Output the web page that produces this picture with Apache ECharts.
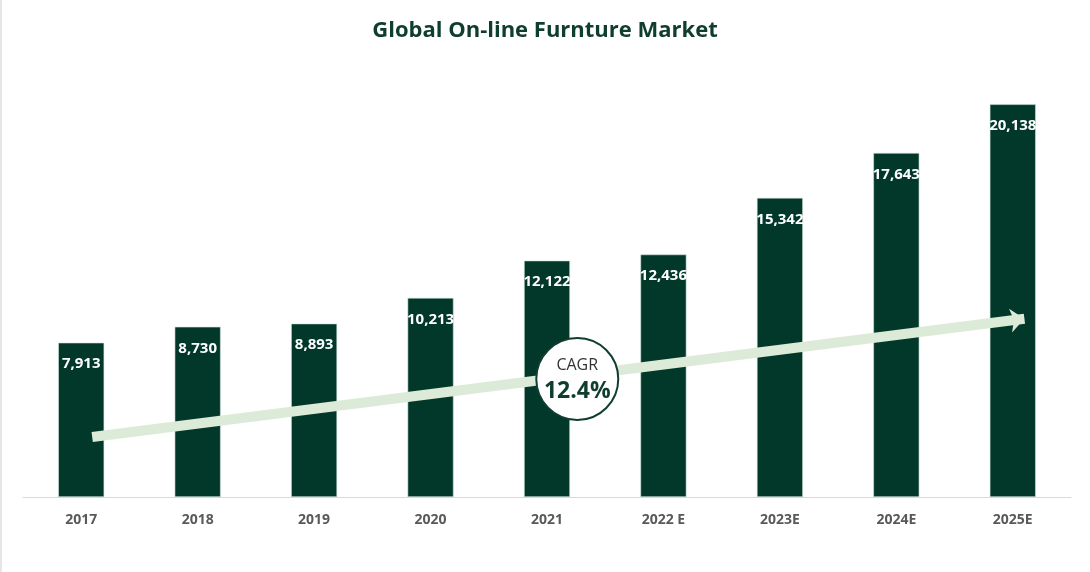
<!DOCTYPE html>
<html>
<head>
<meta charset="utf-8">
<script src="https://cdn.jsdelivr.net/npm/echarts@6/dist/echarts.min.js"></script>
<style>
html,body{margin:0;padding:0;background:#fff;}
#chart{width:1090px;height:572px;}
</style>
</head>
<body>
<div id="chart"></div>
<script>
var categories = ['2017','2018','2019','2020','2021','2022 E','2023E','2024E','2025E'];
var marketValues = [7913, 8730, 8893, 10213, 12122, 12436, 15342, 17643, 20138];
var cagrLabel = 'CAGR';
var cagrValue = '12.4%';
var titleText = 'Global On-line Furnture Market';
// arrow endpoints on hidden value axes (category index, value)
var arrowStart = [0.594, 3080];
var arrowEnd = [8.6, 9140];
var cagrPoint = [4.76, 6050];

var chart = echarts.init(document.getElementById('chart'));
chart.setOption({
  backgroundColor: '#ffffff',
  animation: false,
  title: {
    text: titleText,
    left: 'center',
    top: 15,
    textStyle: {fontFamily: 'Open Sans', fontWeight: 'bold', fontSize: 22, color: '#0f3d2e'}
  },
  graphic: [{
    type: 'rect', left: 0, top: 0, z: -1,
    shape: {x: 0, y: 0, width: 2, height: 572},
    style: {fill: '#e6e6e6'}
  }],
  grid: {left: 23, right: 19, top: 68, bottom: 75},
  xAxis: [{
    type: 'category',
    data: categories,
    axisTick: {show: false},
    axisLine: {lineStyle: {color: '#d9d9d9', width: 1}},
    axisLabel: {color: '#595959', fontWeight: 'bold', fontSize: 14, fontFamily: 'Open Sans', margin: 16}
  }, {
    type: 'value', min: 0, max: 9, show: false
  }],
  yAxis: [{
    type: 'value', min: 0, max: 22000, show: false, splitLine: {show: false}
  }, {
    type: 'value', min: 0, max: 22000, show: false, splitLine: {show: false}
  }],
  series: [{
    type: 'bar',
    data: marketValues,
    barWidth: 46,
    itemStyle: {color: '#01382a', borderColor: '#cfe3d8', borderWidth: 0.6},
    label: {
      show: true,
      position: 'insideTop',
      distance: 14,
      color: '#ffffff',
      fontWeight: 'bold',
      fontSize: 15,
      fontFamily: 'Open Sans',
      formatter: function (p) { return p.value.toLocaleString('en-US'); }
    },
    z: 2
  }, {
    type: 'line',
    xAxisIndex: 1,
    yAxisIndex: 1,
    data: [],
    z: 5,
    markLine: {
      silent: true,
      symbol: ['none', 'arrow'],
      symbolSize: [18, 14],
      label: {show: false},
      lineStyle: {color: '#dcebd8', width: 10, type: 'solid'},
      data: [[{coord: arrowStart}, {coord: arrowEnd}]]
    }
  }, {
    type: 'scatter',
    xAxisIndex: 1,
    yAxisIndex: 1,
    z: 10,
    symbol: 'circle',
    symbolSize: 82,
    itemStyle: {color: '#ffffff', borderColor: '#0f3d2e', borderWidth: 2, opacity: 1},
    data: [cagrPoint],
    label: {
      show: true,
      position: 'inside',
      formatter: '{a|' + cagrLabel + '}\n{b|' + cagrValue + '}',
      rich: {
        a: {fontFamily: 'Open Sans', fontSize: 16, color: '#333333', lineHeight: 24},
        b: {fontFamily: 'Open Sans', fontSize: 23, fontWeight: 'bold', color: '#0f3d2e', lineHeight: 28}
      }
    }
  }]
});
</script>
</body>
</html>
